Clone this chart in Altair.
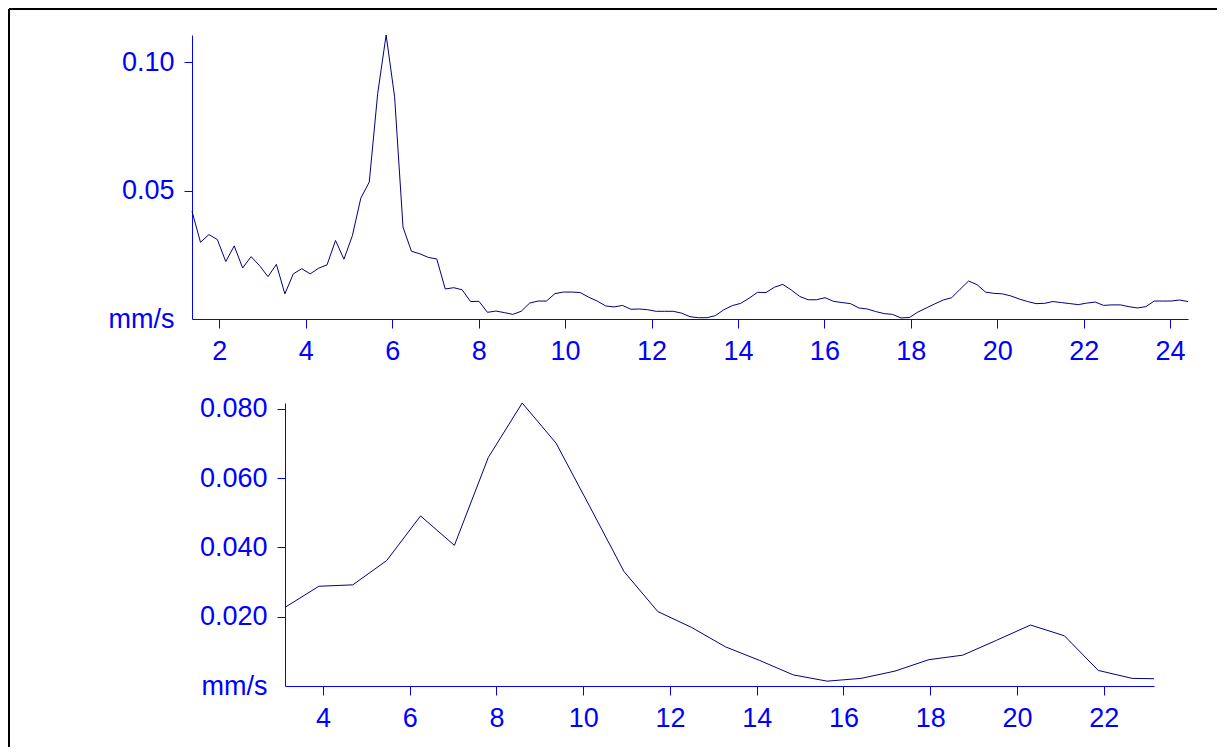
import altair as alt
import pandas as pd

# ---- top spectrum (narrow band) ----
top_freq = [1.367, 1.563, 1.758, 1.953, 2.148, 2.344, 2.539, 2.734, 2.930, 3.125,
            3.320, 3.516, 3.711, 3.906, 4.102, 4.297, 4.492, 4.688, 4.883, 5.078,
            5.273, 5.469, 5.664, 5.859, 6.055, 6.250, 6.445, 6.641, 6.836, 7.031,
            7.227, 7.422, 7.617, 7.813, 8.008, 8.203, 8.398, 8.594, 8.789, 8.984,
            9.180, 9.375, 9.570, 9.766, 9.961, 10.156, 10.352, 10.547, 10.742, 10.938,
            11.133, 11.328, 11.523, 11.719, 11.914, 12.109, 12.305, 12.500, 12.695, 12.891,
            13.086, 13.281, 13.477, 13.672, 13.867, 14.063, 14.258, 14.453, 14.648, 14.844,
            15.039, 15.234, 15.430, 15.625, 15.820, 16.016, 16.211, 16.406, 16.602, 16.797,
            16.992, 17.188, 17.383, 17.578, 17.773, 17.969, 18.164, 18.359, 18.555, 18.750,
            18.945, 19.141, 19.336, 19.531, 19.727, 19.922, 20.117, 20.313, 20.508, 20.703,
            20.898, 21.094, 21.289, 21.484, 21.680, 21.875, 22.070, 22.266, 22.461, 22.656,
            22.852, 23.047, 23.242, 23.438, 23.633, 23.828, 24.023, 24.219, 24.414]
top_vel = [0.0420, 0.0299, 0.0329, 0.0310, 0.0224, 0.0285, 0.0199, 0.0243, 0.0208, 0.0165,
           0.0213, 0.0098, 0.0176, 0.0196, 0.0176, 0.0198, 0.0211, 0.0306, 0.0233, 0.0325,
           0.0471, 0.0534, 0.0879, 0.1107, 0.0866, 0.0358, 0.0264, 0.0254, 0.0240, 0.0234,
           0.0117, 0.0122, 0.0114, 0.0068, 0.0069, 0.0026, 0.0031, 0.0025, 0.0018, 0.0030,
           0.0062, 0.0070, 0.0070, 0.0099, 0.0105, 0.0105, 0.0103, 0.0085, 0.0070, 0.0051,
           0.0047, 0.0053, 0.0038, 0.0039, 0.0036, 0.0030, 0.0030, 0.0030, 0.0023, 0.0009,
           0.0005, 0.0005, 0.0013, 0.0036, 0.0052, 0.0061, 0.0081, 0.0104, 0.0103, 0.0124,
           0.0135, 0.0113, 0.0088, 0.0075, 0.0075, 0.0083, 0.0069, 0.0064, 0.0060, 0.0043,
           0.0039, 0.0029, 0.0021, 0.0018, 0.0004, 0.0006, 0.0027, 0.0043, 0.0059, 0.0074,
           0.0083, 0.0116, 0.0148, 0.0134, 0.0105, 0.0100, 0.0098, 0.0090, 0.0078, 0.0068,
           0.0060, 0.0061, 0.0068, 0.0064, 0.0060, 0.0056, 0.0062, 0.0066, 0.0053, 0.0055,
           0.0055, 0.0048, 0.0043, 0.0048, 0.0070, 0.0070, 0.0070, 0.0074, 0.0068]
top_xticks = [2, 4, 6, 8, 10, 12, 14, 16, 18, 20, 22, 24]
top_yticks = [0, 0.05, 0.10]

# ---- bottom spectrum (wide band) ----
bot_freq = [3.125, 3.906, 4.688, 5.469, 6.250, 7.031, 7.813, 8.594, 9.375, 10.156,
            10.938, 11.719, 12.500, 13.281, 14.063, 14.844, 15.625, 16.406, 17.188, 17.969,
            18.750, 19.531, 20.313, 21.094, 21.875, 22.656, 23.160]
bot_vel = [0.0227, 0.0288, 0.0292, 0.0362, 0.0491, 0.0406, 0.0660, 0.0817, 0.0701, 0.0517,
           0.0331, 0.0215, 0.0169, 0.0113, 0.0074, 0.0032, 0.0014, 0.0022, 0.0043, 0.0076,
           0.0089, 0.0132, 0.0176, 0.0145, 0.0045, 0.0022, 0.0021]
bot_xticks = [4, 6, 8, 10, 12, 14, 16, 18, 20, 22]
bot_yticks = [0, 0.02, 0.04, 0.06, 0.08]

BLUE = "#0000FF"
LINE = "#000080"
FONT = "Arial"
FS = 27

top_df = pd.DataFrame({"f": top_freq, "v": top_vel})
bot_df = pd.DataFrame({"f": bot_freq, "v": bot_vel})
one = pd.DataFrame({"a": [0]})

hide_zero_tick = {"condition": {"test": "datum.value == 0", "value": 0}, "value": 1}


def xaxis(vals):
    return alt.Axis(values=vals, format="d", title=None, tickSize=9, labelPadding=10,
                    labelOverlap=False, labelFlush=False)


def yaxis(vals, fmt, offset=0):
    return alt.Axis(values=vals, title=None, tickSize=8, labelPadding=10, offset=offset,
                    labelOverlap=False, labelFlush=False, tickOpacity=hide_zero_tick,
                    labelExpr=f"datum.value == 0 ? 'mm/s' : format(datum.value, '{fmt}')")


top_line = alt.Chart(top_df).mark_line(color=LINE, strokeWidth=1).encode(
    x=alt.X("f:Q", scale=alt.Scale(domain=[1.367, 24.414], nice=False, zero=False),
            axis=xaxis(top_xticks)),
    y=alt.Y("v:Q", scale=alt.Scale(domain=[0, 0.1107], nice=False), axis=yaxis(top_yticks, ".2f")),
)

frame_top = alt.Chart(one).mark_rule(color="black", strokeWidth=2).encode(
    x=alt.value(-183), x2=alt.value(1025), y=alt.value(-26))
frame_left = alt.Chart(one).mark_rule(color="black", strokeWidth=2).encode(
    x=alt.value(-183), y=alt.value(-26), y2=alt.value(712))

top = alt.layer(top_line, frame_top, frame_left).properties(width=996, height=284)

bottom = alt.Chart(bot_df).mark_line(color=LINE, strokeWidth=1).encode(
    x=alt.X("f:Q", scale=alt.Scale(domain=[3.125, 23.16], range=[93, 962], nice=False, zero=False),
            axis=xaxis(bot_xticks)),
    y=alt.Y("v:Q", scale=alt.Scale(domain=[0, 0.0817], nice=False),
            axis=yaxis(bot_yticks, ".3f", offset=-93)),
).properties(width=996, height=283)

chart = alt.vconcat(top, bottom, spacing=84, bounds="flush").properties(
    padding=0, background="white"
).configure_view(stroke=None).configure_axis(
    grid=False, domainColor=BLUE, domainWidth=1, tickColor=BLUE, tickWidth=1,
    labelColor=BLUE, labelFont=FONT, labelFontSize=FS,
)

chart.save("out.html", embed_options={"renderer": "svg", "actions": False})
